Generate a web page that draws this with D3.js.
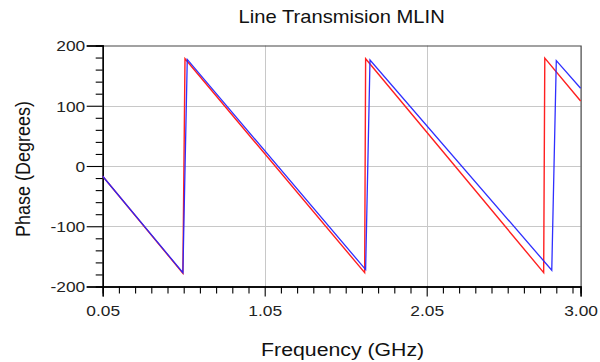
<!DOCTYPE html>
<html>
<head>
<meta charset="utf-8">
<script src="https://cdn.jsdelivr.net/npm/d3@7"></script>
<style>
  html, body { margin: 0; padding: 0; background: #fff; }
  svg { display: block; font-family: "Liberation Sans", Arial, sans-serif; }
</style>
</head>
<body>
<svg id="chart" width="600" height="362"></svg>
<script>
// ---- data ----
const redFreq  = [0.05, 0.545, 0.558, 1.667, 1.673, 2.772, 2.779, 3.00];
const redPhase = [-17, -178, 178, -177, 178, -177, 179, 108];
const blueFreq  = [0.05, 0.545, 0.572, 1.673, 1.700, 2.822, 2.850, 3.00];
const bluePhase = [-17, -177, 177, -172, 176, -173, 175, 129];

const xMajorTicks = [0.05, 1.05, 2.05, 3.00];
const xMinorTicks = [0.15, 0.25, 0.35, 0.45, 0.55, 0.65, 0.75, 0.85, 0.95,
                     1.15, 1.25, 1.35, 1.45, 1.55, 1.65, 1.75, 1.85, 1.95,
                     2.15, 2.25, 2.35, 2.45, 2.55, 2.65, 2.75, 2.85, 2.95];
const yMajorTicks = [-200, -100, 0, 100, 200];
const yMinorTicks = [-180, -160, -140, -120, -80, -60, -40, -20,
                     20, 40, 60, 80, 120, 140, 160, 180];

const titleText = "Line Transmision MLIN";
const xLabelText = "Frequency (GHz)";
const yLabelText = "Phase (Degrees)";

// ---- layout ----
const L = 102.7, R = 580.6, T = 45.5, B = 286.5;
const SX = 1.12; // horizontal stretch of text seen in the reference

const svg = d3.select("#chart");
const x = d3.scaleLinear().domain([0.05, 3.00]).range([L, R]);
const y = d3.scaleLinear().domain([-200, 200]).range([B, T]);

// grid
const grid = svg.append("g").attr("stroke", "#c8c8c8").attr("stroke-width", 1);
[1.05, 2.05].forEach(v => grid.append("line")
  .attr("x1", Math.round(x(v)) + 0.5).attr("x2", Math.round(x(v)) + 0.5)
  .attr("y1", T).attr("y2", B));
[-100, 0, 100].forEach(v => grid.append("line")
  .attr("x1", L).attr("x2", R)
  .attr("y1", Math.round(y(v)) + 0.5).attr("y2", Math.round(y(v)) + 0.5));

// frame (top & right)
svg.append("path")
  .attr("d", `M${L},${T + 0.5}H${R + 0.5}V${B}`)
  .attr("fill", "none").attr("stroke", "#444").attr("stroke-width", 1.2);

// axes
const xAxisMajor = d3.axisBottom(x).tickValues(xMajorTicks)
  .tickFormat(d3.format(".2f")).tickSize(10).tickPadding(6);
const xAxisMinor = d3.axisBottom(x).tickValues(xMinorTicks)
  .tickFormat("").tickSize(7);
const yAxisMajor = d3.axisLeft(y).tickValues(yMajorTicks)
  .tickFormat(d => String(d)).tickSize(16).tickPadding(2);
const yAxisMinor = d3.axisLeft(y).tickValues(yMinorTicks)
  .tickFormat("").tickSize(7);

const gx = svg.append("g").attr("transform", `translate(0,${B})`);
gx.call(xAxisMinor);
const gxM = svg.append("g").attr("transform", `translate(0,${B})`).call(xAxisMajor);
const gy = svg.append("g").attr("transform", `translate(${L},0)`);
gy.call(yAxisMinor);
const gyM = svg.append("g").attr("transform", `translate(${L},0)`).call(yAxisMajor);

svg.selectAll(".domain").attr("stroke", "#000").attr("stroke-width", 1.3);
svg.selectAll(".tick line").attr("stroke", "#000").attr("stroke-width", 1.1);

// tick label styling with horizontal stretch
gxM.selectAll(".tick text").each(function() {
  const t = d3.select(this);
  t.attr("font-size", 15.5).attr("fill", "#222")
   .attr("font-family", "'Liberation Sans', Arial, sans-serif")
   .attr("dy", null).attr("y", 30)
   .attr("transform", `scale(${SX},1)`);
});
gyM.selectAll(".tick text").each(function() {
  const t = d3.select(this);
  t.attr("font-size", 15.5).attr("fill", "#222")
   .attr("font-family", "'Liberation Sans', Arial, sans-serif")
   .attr("x", 0).attr("dy", "0.35em")
   .attr("transform", `translate(-17.5,0) scale(${SX},1)`);
});

// lines
const line = d3.line().x(d => x(d[0])).y(d => y(d[1]));
const redData = redFreq.map((f, i) => [f, redPhase[i]]);
const blueData = blueFreq.map((f, i) => [f, bluePhase[i]]);

svg.append("path").datum(redData).attr("d", line)
  .attr("fill", "none").attr("stroke", "#ff2020").attr("stroke-width", 1.4);
svg.append("path").datum(blueData).attr("d", line)
  .attr("fill", "none").attr("stroke", "#2424ff").attr("stroke-width", 1.3)
  .attr("stroke-opacity", 0.95);

// title
svg.append("text")
  .attr("transform", `translate(${(L + R) / 2},22.5) scale(${SX},1)`)
  .attr("text-anchor", "middle").attr("font-size", 18).attr("fill", "#111")
  .text(titleText);

// x label
svg.append("text")
  .attr("transform", `translate(${(L + R) / 2 + 1},356) scale(${SX},1)`)
  .attr("text-anchor", "middle").attr("font-size", 19).attr("fill", "#111")
  .text(xLabelText);

// y label
svg.append("text")
  .attr("transform", `translate(30,169) scale(${SX},1) rotate(-90)`)
  .attr("text-anchor", "middle").attr("font-size", 18).attr("fill", "#111")
  .text(yLabelText);
</script>
</body>
</html>
